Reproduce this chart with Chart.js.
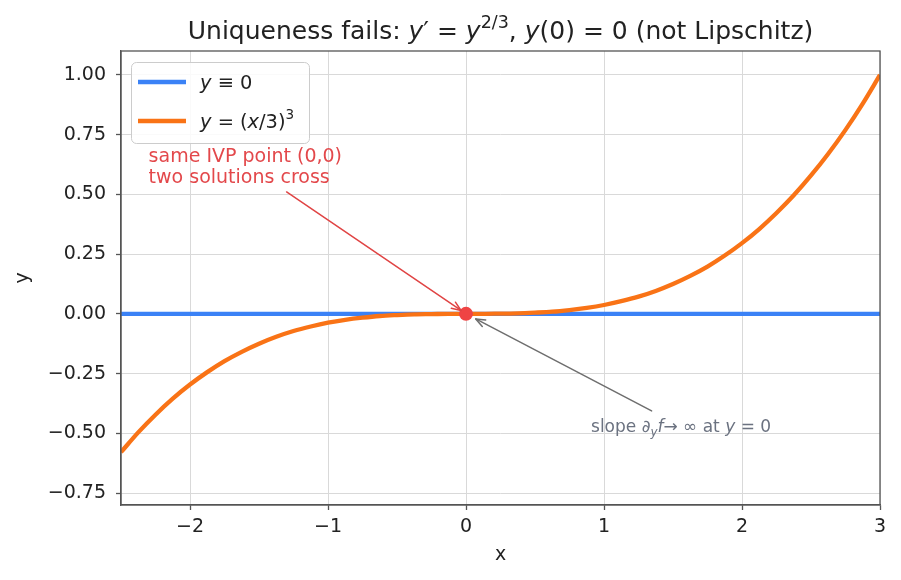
<!DOCTYPE html>
<html><head><meta charset="utf-8">
<script src="https://cdn.jsdelivr.net/npm/chart.js@4.4.1/dist/chart.umd.min.js"></script>
<style>html,body{margin:0;padding:0;background:#fff;}#wrap{width:901px;height:580px;}</style>
</head><body><div id="wrap"><canvas id="c" width="901" height="580"></canvas></div>
<script>
// ---- data ----
const curveX = [-2.5,-2.375,-2.25,-2.125,-2,-1.875,-1.75,-1.625,-1.5,-1.375,-1.25,-1.125,-1,-0.875,-0.75,-0.625,-0.5,-0.375,-0.25,-0.125,0,
                0.125,0.25,0.375,0.5,0.625,0.75,0.875,1,1.125,1.25,1.375,1.5,1.625,1.75,1.875,2,2.125,2.25,2.375,2.5,2.625,2.75,2.875,3];
const curveY = [-0.579,-0.496,-0.422,-0.355,-0.296,-0.244,-0.198,-0.159,-0.125,-0.096,-0.072,-0.053,-0.037,-0.025,-0.016,-0.009,-0.005,-0.002,-0.001,0,0,
                0,0.001,0.002,0.005,0.009,0.016,0.025,0.037,0.053,0.072,0.096,0.125,0.159,0.198,0.244,0.296,0.355,0.422,0.496,0.579,0.670,0.770,0.880,1.0];
const zeroX = [-2.5, 3];
const zeroY = [0, 0];
const ivpPoint = [0, 0];
const xTicks = [-2,-1,0,1,2,3];
const yTicks = [-0.75,-0.5,-0.25,0,0.25,0.5,0.75,1.0];
const xRange = [-2.5, 3];
const yRange = [-0.8, 1.1];
// annotation anchors (data units)
const redTextAt = [-2.30, 0.637];
const redArrowFrom = [-1.30, 0.510];
const grayTextAt = [0.906, -0.494];
const grayArrowFrom = [1.345, -0.406];

const FONT = '"DejaVu Sans"';
const BLUE = '#3b82f6', ORANGE = '#f97316', RED = '#ef4444', RED_TXT = '#e3484b', GRAY = '#6b7280';
const minus = s => String(s).replace('-', '\u2212');

function drawRich(ctx, segs, x, y, align, base, color) {
  const items = segs.map(s => {
    const size = base * (s.sc || 1);
    const font = (s.it ? 'italic ' : '') + size + 'px ' + FONT;
    ctx.font = font;
    return { t: s.t, font, w: ctx.measureText(s.t).width, dy: (s.dy || 0) * base };
  });
  const total = items.reduce((a, b) => a + b.w, 0);
  let cx = align === 'center' ? x - total / 2 : x;
  ctx.fillStyle = color; ctx.textBaseline = 'alphabetic'; ctx.textAlign = 'left';
  for (const it of items) { ctx.font = it.font; ctx.fillText(it.t, cx, y + it.dy); cx += it.w; }
}

function arrow(ctx, x0, y0, x1, y1, shrink, color) {
  const dx = x1 - x0, dy = y1 - y0, L = Math.hypot(dx, dy);
  const ux = dx / L, uy = dy / L;
  const tx = x1 - ux * shrink, ty = y1 - uy * shrink;
  ctx.save();
  ctx.strokeStyle = color; ctx.lineWidth = 1.5; ctx.lineCap = 'round'; ctx.lineJoin = 'round';
  ctx.beginPath(); ctx.moveTo(x0, y0); ctx.lineTo(tx, ty); ctx.stroke();
  const hl = 10, ha = 0.38, ang = Math.atan2(uy, ux);
  ctx.beginPath();
  ctx.moveTo(tx - hl * Math.cos(ang - ha), ty - hl * Math.sin(ang - ha));
  ctx.lineTo(tx, ty);
  ctx.lineTo(tx - hl * Math.cos(ang + ha), ty - hl * Math.sin(ang + ha));
  ctx.stroke();
  ctx.restore();
}

const decor = {
  id: 'decor',
  afterDatasetsDraw(chart) {
    const ctx = chart.ctx, xs = chart.scales.x, ys = chart.scales.y, a = chart.chartArea;
    const px = v => xs.getPixelForValue(v), py = v => ys.getPixelForValue(v);
    ctx.save();
    ctx.strokeStyle = '#555'; ctx.lineWidth = 1.3;
    ctx.strokeRect(a.left, a.top, a.right - a.left, a.bottom - a.top);
    ctx.restore();
    const tipX = px(ivpPoint[0]), tipY = py(ivpPoint[1]);
    arrow(ctx, px(redArrowFrom[0]), py(redArrowFrom[1]), tipX, tipY, 6, '#e04444');
    arrow(ctx, px(grayArrowFrom[0]), py(grayArrowFrom[1]), tipX, tipY, 11, '#6e6e6e');
    ctx.font = '19px ' + FONT; ctx.fillStyle = RED_TXT; ctx.textAlign = 'left'; ctx.textBaseline = 'alphabetic';
    ctx.fillText('same IVP point (0,0)', px(redTextAt[0]), py(redTextAt[1]));
    ctx.fillText('two solutions cross', px(redTextAt[0]), py(redTextAt[1]) + 21);
    drawRich(ctx, [
      {t:'slope '},{t:'\u2202'},{t:'y',it:1,sc:0.7,dy:0.22},{t:'f',it:1},{t:'\u2192 \u221e'},{t:' at '},{t:'y',it:1},{t:' = 0'}
    ], px(grayTextAt[0]), py(grayTextAt[1]), 'left', 17, GRAY);
    ctx.save();
    ctx.fillStyle = 'rgba(255,255,255,0.85)'; ctx.strokeStyle = '#cccccc'; ctx.lineWidth = 1;
    ctx.beginPath(); ctx.roundRect(131.5, 62.5, 178, 81, 5); ctx.fill(); ctx.stroke();
    ctx.lineWidth = 4.4;
    ctx.strokeStyle = BLUE; ctx.beginPath(); ctx.moveTo(138, 82); ctx.lineTo(186, 82); ctx.stroke();
    ctx.strokeStyle = ORANGE; ctx.beginPath(); ctx.moveTo(138, 121); ctx.lineTo(186, 121); ctx.stroke();
    ctx.restore();
    drawRich(ctx, [{t:'y',it:1},{t:' \u2261 0'}], 200, 89, 'left', 19.4, '#222');
    drawRich(ctx, [{t:'y',it:1},{t:' = ('},{t:'x',it:1},{t:'/3)'},{t:'3',sc:0.7,dy:-0.45}], 200, 128, 'left', 19.4, '#222');
  },
  afterDraw(chart) {
    const ctx = chart.ctx;
    drawRich(ctx, [
      {t:'Uniqueness fails: '},{t:'y',it:1},{t:'\u2032'},{t:' = '},{t:'y',it:1},{t:'2/3',sc:0.7,dy:-0.42},
      {t:', '},{t:'y',it:1},{t:'(0) = 0 (not Lipschitz)'}
    ], (chart.chartArea.left + chart.chartArea.right) / 2, 38.5, 'center', 25, '#222');
  }
};

const pts = (xa, ya) => xa.map((x, i) => ({ x, y: ya[i] }));

new Chart(document.getElementById('c'), {
  type: 'line',
  data: {
    datasets: [
      { label: 'IVP point', type: 'scatter', data: [{ x: ivpPoint[0], y: ivpPoint[1] }], pointRadius: 7, pointBackgroundColor: RED, pointBorderWidth: 0, showLine: false, order: 0 },
      { label: 'y = (x/3)^3', data: pts(curveX, curveY), borderColor: ORANGE, borderWidth: 4.3, pointRadius: 0, cubicInterpolationMode: 'monotone', fill: false, order: 1 },
      { label: 'y ≡ 0', data: pts(zeroX, zeroY), borderColor: BLUE, borderWidth: 4.3, pointRadius: 0, fill: false, order: 2 }
    ]
  },
  options: {
    responsive: false, animation: false, devicePixelRatio: 1,
    layout: { padding: { left: 0, right: 21, top: 51, bottom: 0 } },
    plugins: { legend: { display: false }, title: { display: false }, tooltip: { enabled: false } },
    scales: {
      x: {
        type: 'linear', min: xRange[0], max: xRange[1],
        afterFit: s => { s.height = 75; },
        afterBuildTicks: s => { s.ticks = xTicks.map(v => ({ value: v })); },
        ticks: { callback: v => minus(v), font: { family: 'DejaVu Sans', size: 19 }, color: '#222', padding: 6, maxRotation: 0 },
        grid: { color: '#d9d9d9', lineWidth: 1, tickColor: '#555', tickLength: 5, tickWidth: 1.3 },
        border: { display: true, color: '#555', width: 1.3 },
        title: { display: true, text: 'x', font: { family: 'DejaVu Sans', size: 19 }, color: '#222', padding: { top: 0, bottom: 13.6 } }
      },
      y: {
        type: 'linear', min: yRange[0], max: yRange[1],
        afterFit: s => { s.width = 121; },
        afterBuildTicks: s => { s.ticks = yTicks.map(v => ({ value: v })); },
        ticks: { callback: v => minus(v.toFixed(2)), font: { family: 'DejaVu Sans', size: 19 }, color: '#222', padding: 10 },
        grid: { color: '#d9d9d9', lineWidth: 1, tickColor: '#555', tickLength: 5, tickWidth: 1.3 },
        border: { display: true, color: '#555', width: 1.3 },
        title: { display: true, text: 'y', font: { family: 'DejaVu Sans', size: 19 }, color: '#222', padding: { top: 11.6, bottom: 0 } }
      }
    }
  },
  plugins: [decor]
});
</script></body></html>
